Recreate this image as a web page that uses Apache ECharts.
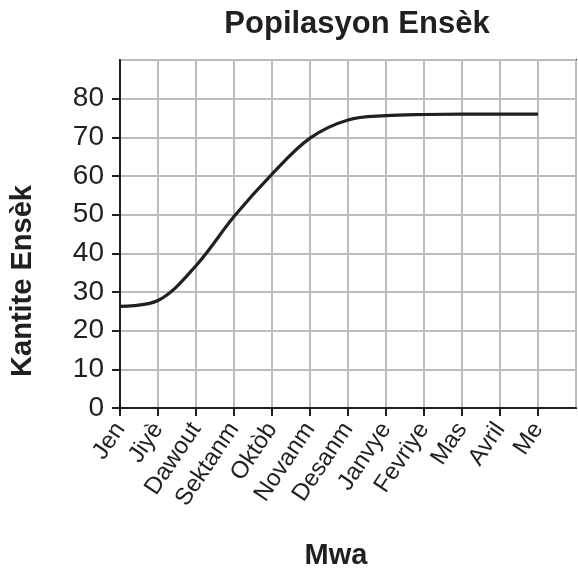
<!DOCTYPE html>
<html><head><meta charset="utf-8">
<script src="https://cdn.jsdelivr.net/npm/echarts@6/dist/echarts.min.js"></script>
<style>html,body{margin:0;padding:0;background:#fff}#c{width:578px;height:569px}</style>
</head><body><div id="c"></div>
<script>
const months = ['Jen','Jiyè','Dawout','Sektanm','Oktòb','Novanm','Desanm','Janvye','Fevriye','Mas','Avril','Me',''];
const population = [26.3, 27.8, 36.8, 49.5, 60.5, 69.8, 74.5, 75.6, 75.9, 76, 76, 76];
const yTicks = [0,10,20,30,40,50,60,70,80,90];
const FONT = '"Liberation Sans", Arial, Helvetica, sans-serif';
const chart = echarts.init(document.getElementById('c'));
chart.setOption({
  animation:false,
  backgroundColor:'#fff',
  title:{text:'Popilasyon Ensèk',left:352,top:4,textAlign:'center',
    textStyle:{fontFamily:FONT,fontSize:31,fontWeight:'bold',color:'#231f20'}},
  grid:{left:120,right:2,top:60,bottom:161,show:true,borderColor:'#231f20',borderWidth:2,
    containLabel:false,outerBoundsMode:'none'},
  xAxis:{type:'category',data:months,boundaryGap:false,
    name:'Mwa',nameLocation:'middle',nameGap:133,
    nameTextStyle:{fontFamily:FONT,fontSize:29,fontWeight:'bold',color:'#231f20',padding:[0,24,0,0]},
    axisLine:{lineStyle:{color:'#231f20',width:2}},
    axisTick:{length:8,lineStyle:{color:'#231f20',width:2},interval:(i,v)=>v!==''},
    axisLabel:{rotate:56,fontFamily:FONT,fontSize:24,color:'#231f20',margin:17,interval:0},
    splitLine:{show:true,lineStyle:{color:'#bcbcbe',width:2}}},
  yAxis:{type:'value',min:yTicks[0],max:yTicks[yTicks.length-1],interval:10,
    name:'Kantite Ensèk',nameLocation:'middle',nameGap:83,nameRotate:90,
    nameTextStyle:{fontFamily:FONT,fontSize:29,fontWeight:'bold',color:'#231f20',padding:[0,94,0,0]},
    axisLine:{show:true,lineStyle:{color:'#231f20',width:2}},
    axisTick:{show:true,length:8,lineStyle:{color:'#231f20',width:2}},
    axisLabel:{fontFamily:FONT,fontSize:28,color:'#231f20',margin:16,showMaxLabel:false,
      formatter:v=>v===90?'':String(v)},
    splitLine:{show:true,lineStyle:{color:'#bcbcbe',width:2}}},
  series:[{type:'line',data:population,smooth:0.35,symbol:'none',
    lineStyle:{color:'#231f20',width:3.2}}]
});
</script></body></html>
